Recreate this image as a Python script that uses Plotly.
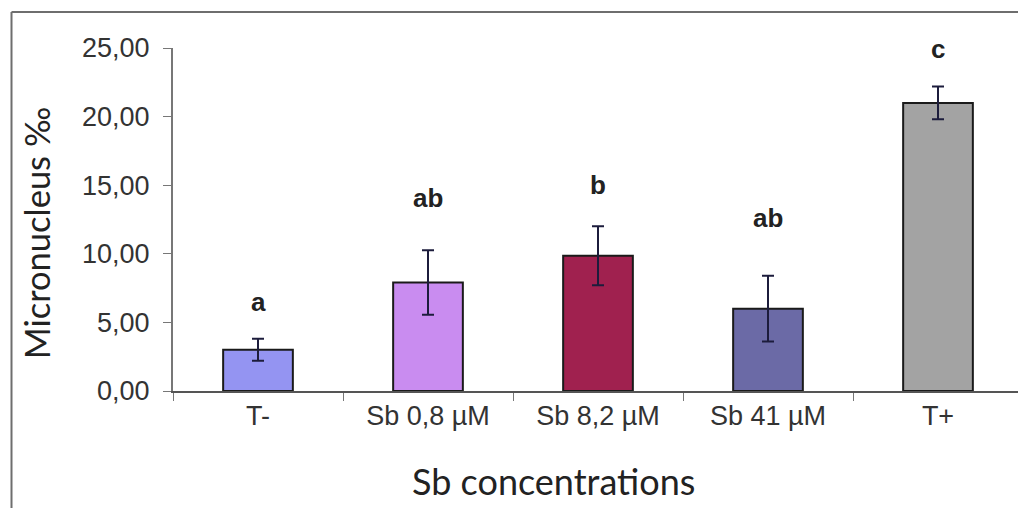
import plotly.graph_objects as go

categories = ["T-", "Sb 0,8 µM", "Sb 8,2 µM", "Sb 41 µM", "T+"]
means = [3.0, 7.9, 9.85, 6.0, 21.0]
errors = [0.8, 2.35, 2.15, 2.4, 1.2]
letters = ["a", "ab", "b", "ab", "c"]
letter_y = [6.5, 14.1, 15.0, 12.6, 24.9]
colors = ["#9494f2", "#c98cf0", "#a0214f", "#6b6aa6", "#a3a3a3"]
y_ticks = [0, 5, 10, 15, 20, 25]
y_tick_text = ["0,00", "5,00", "10,00", "15,00", "20,00", "25,00"]
x_title = "Sb concentrations"
y_title = "Micronucleus ‰"

fig = go.Figure()
fig.add_trace(go.Bar(
    x=categories, y=means,
    marker=dict(color=colors, line=dict(color="#1a1a1a", width=2)),
    error_y=dict(type="data", array=errors, visible=True,
                 color="#1c1c3c", thickness=2, width=6),
    showlegend=False,
))

for c, t, yy in zip(categories, letters, letter_y):
    fig.add_annotation(x=c, y=yy, text="<b>" + t + "</b>", showarrow=False,
                       font=dict(family="Liberation Sans, Arial", size=26, color="#222222"),
                       xanchor="center", yanchor="middle")

# axis titles (placed off-centre as in the original)
fig.add_annotation(xref="paper", yref="paper", x=0.448, y=-0.262, text=x_title, showarrow=False,
                   xanchor="center", yanchor="middle",
                   font=dict(family="Lato, Open Sans", size=36, color="#222222"))
fig.add_annotation(xref="paper", yref="paper", x=-0.161, y=0.46, text=y_title, showarrow=False,
                   textangle=-90, xanchor="center", yanchor="middle",
                   font=dict(family="Lato, Open Sans", size=34.5, color="#222222"))

# outer frame
fig.add_shape(type="line", xref="paper", yref="paper", x0=-0.19, x1=1.01, y0=1.105, y1=1.105,
              line=dict(color="#6e6e6e", width=2))
fig.add_shape(type="line", xref="paper", yref="paper", x0=-0.19, x1=-0.19, y0=1.105, y1=-0.4,
              line=dict(color="#6e6e6e", width=2))

fig.update_layout(
    width=1018, height=500,
    margin=dict(l=165, r=3, t=40, b=117),
    paper_bgcolor="white", plot_bgcolor="white",
    bargap=0.59,
    font=dict(family="Liberation Sans, Arial", color="#333333"),
)
fig.update_xaxes(
    showline=True, linecolor="#555555", linewidth=2,
    ticks="outside", tickson="boundaries", ticklen=8, tickcolor="#777777", tickwidth=1,
    tickfont=dict(family="Liberation Sans, Arial", size=27, color="#333333"),
    showgrid=False, zeroline=False,
)
fig.update_yaxes(
    range=[0, 25], tickvals=y_ticks, ticktext=y_tick_text,
    showline=True, linecolor="#777777", linewidth=2,
    ticks="outside", ticklen=8, tickcolor="#777777", tickwidth=1, ticklabelstandoff=8,
    tickfont=dict(family="Liberation Sans, Arial", size=27, color="#333333"),
    showgrid=False, zeroline=False,
)

fig.write_html("out.html")
